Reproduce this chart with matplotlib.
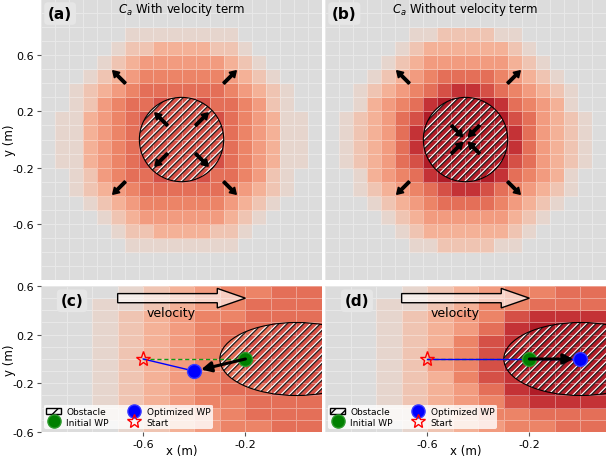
import numpy as np
import matplotlib
matplotlib.use('Agg')
from matplotlib import pyplot as plt
from matplotlib.colors import ListedColormap, BoundaryNorm
from matplotlib.patches import Circle, FancyArrow, Patch
from matplotlib.lines import Line2D
from matplotlib.collections import LineCollection
from matplotlib.transforms import IdentityTransform

# cost level per cell (0 = no cost, 9 = highest), rows listed top -> bottom
grid_a = [
    "00000000000000000000",
    "00000000000000000000",
    "00000011111111000000",
    "00000122333322100000",
    "00001234444443210000",
    "00012345555554321000",
    "00123456666665432100",
    "00124566777766542100",
    "01134567777776543110",
    "01134567777776543110",
    "01134567777776543110",
    "01134567777776543110",
    "00124566777766542100",
    "00123456666665432100",
    "00012345555554321000",
    "00001234444443210000",
    "00000122333322100000",
    "00000011111111000000",
    "00000000000000000000",
    "00000000000000000000",
]
grid_b = [
    "00000000000000000000",
    "00000000000000000000",
    "00000011222211000000",
    "00000123333332100000",
    "00001234444443210000",
    "00012345666654321000",
    "00123456788765432100",
    "00134568999986543100",
    "01234679999997643210",
    "01234689999998643210",
    "01234689999998643210",
    "01234679999997643210",
    "00134568999986543100",
    "00123456788765432100",
    "00012345666654321000",
    "00001234444443210000",
    "00000123333332100000",
    "00000011222211000000",
    "00000000000000000000",
    "00000000000000000000",
]
# bottom panels: x -1.0 .. 0.1, y 0.6 .. -0.6
grid_c = [
    "00012345566",
    "00112345666",
    "00123455666",
    "00123456677",
    "00123456777",
    "00123456777",
    "00123456777",
    "00123456777",
    "00123456677",
    "00123455666",
    "00112345666",
    "00012345566",
]
grid_d = [
    "00012345566",
    "00112355666",
    "00123457888",
    "00123468999",
    "00123578999",
    "00124579999",
    "00124579999",
    "00123578999",
    "00123468999",
    "00123457888",
    "00112355666",
    "00012345566",
]

start = (-0.6, 0.0)
init_wp = (-0.2, 0.0)
opt_wp_c = (-0.4, -0.1)
opt_wp_d = (0.0, 0.0)
obst_r = 0.3

# gradient arrows (x_tail, y_tail, x_head, y_head)
outer_arrows = [(-0.40, 0.40, -0.49, 0.49), (0.30, 0.40, 0.39, 0.49),
                (-0.40, -0.30, -0.49, -0.39), (0.30, -0.30, 0.39, -0.39)]
inner_a = [(-0.10, 0.10, -0.19, 0.19), (0.10, 0.10, 0.19, 0.19),
           (-0.10, -0.10, -0.19, -0.19), (0.10, -0.10, 0.19, -0.19)]
inner_b = [(-0.10, 0.10, -0.02, 0.02), (0.10, 0.10, 0.02, 0.02),
           (-0.10, -0.10, -0.02, -0.02), (0.10, -0.10, 0.02, -0.02)]

bg = '#dcdcdc'
pal = [bg, '#e6d5cd', '#efc4b2', '#f4b197', '#f29b7f', '#ec8467',
       '#e46f58', '#d55046', '#c43236', '#b01c27']
cmap = ListedColormap(pal)
norm = BoundaryNorm(np.arange(-0.5, 10.5, 1), cmap.N)


def to_arr(g):
    return np.array([[int(ch) for ch in row] for row in g])[::-1]


def heat(ax, g, x0, x1, y0, y1):
    arr = to_arr(g)
    xs = np.linspace(x0, x1, arr.shape[1] + 1)
    ys = np.linspace(y0, y1, arr.shape[0] + 1)
    ax.pcolormesh(xs, ys, arr, cmap=cmap, norm=norm,
                  edgecolors=(1, 1, 1, 0.35), linewidth=0.5)
    ax.set_facecolor(bg)


def obstacle(ax):
    # outline + hand drawn diagonal stripes (black with a white edge), clipped to the disc
    circ = Circle((0, 0), obst_r, fill=False, edgecolor='k', lw=0.8, zorder=4)
    ax.add_patch(circ)
    cx, cy = ax.transData.transform((0, 0))
    ex, ey = ax.transData.transform((obst_r, obst_r))
    rx, ry = ex - cx, ey - cy
    step = 8.3
    segs_k, segs_w = [], []
    for c in np.arange(-(rx + ry) - step, rx + ry + step, step):
        xa, xb = cx - rx - ry - 20, cx + rx + ry + 20
        segs_k.append([(xa, cy + (xa - cx) + c), (xb, cy + (xb - cx) + c)])
        segs_w.append([(xa, cy + (xa - cx) + c + 1.6), (xb, cy + (xb - cx) + c + 1.6)])
    for segs, col, lw in [(segs_w, 'white', 1.0), (segs_k, '#222222', 0.9)]:
        lc = LineCollection(segs, colors=col, linewidths=lw, transform=IdentityTransform(), zorder=3)
        ax.add_collection(lc, autolim=False)
        lc.set_clip_path(circ)


def grad_arrows(ax, arrs):
    for x0, y0, x1, y1 in arrs:
        ax.add_patch(FancyArrow(x0, y0, x1 - x0, y1 - y0, width=0.018,
                                head_width=0.055, head_length=0.045,
                                length_includes_head=True, color='k', zorder=5))


def tag(ax, s, x, y):
    ax.text(x, y, s, transform=ax.transAxes, fontsize=11, fontweight='bold',
            va='top', ha='left', zorder=10,
            bbox=dict(boxstyle='round,pad=0.25', fc='#e6e6e6', ec='none'))


def style(ax):
    for sp in ax.spines.values():
        sp.set_visible(False)
    ax.tick_params(labelsize=8, length=3, pad=2, color='#555555')


fig = plt.figure(figsize=(6.06, 4.6), dpi=100)
ax_a = fig.add_axes([0.0677, 0.389, 0.4637, 0.611])
ax_b = fig.add_axes([0.5363, 0.389, 0.4637, 0.611])
ax_c = fig.add_axes([0.0677, 0.0587, 0.4637, 0.3174])
ax_d = fig.add_axes([0.5363, 0.0587, 0.4637, 0.3174])

# top panels
for ax, g, inner, ttl, lab in [(ax_a, grid_a, inner_a, r'$C_a$ With velocity term', '(a)'),
                               (ax_b, grid_b, inner_b, r'$C_a$ Without velocity term', '(b)')]:
    ax.set_xlim(-1, 1)
    ax.set_ylim(-1, 1)
    ax.set_aspect('equal')
    heat(ax, g, -1, 1, -1, 1)
    obstacle(ax)
    grad_arrows(ax, outer_arrows)
    grad_arrows(ax, inner)
    ax.set_xticks([])
    ax.set_yticks([-0.6, -0.2, 0.2, 0.6])
    ax.set_yticklabels(['-0.6', '-0.2', '0.2', '0.6'])
    ax.text(0.5, 0.995, ttl, transform=ax.transAxes, ha='center', va='top', fontsize=8.5)
    tag(ax, lab, 0.025, 0.975)
    style(ax)
ax_b.set_yticks([])

# bottom panels
for ax, g, opt, lab in [(ax_c, grid_c, opt_wp_c, '(c)'), (ax_d, grid_d, opt_wp_d, '(d)')]:
    ax.set_xlim(-1.0, 0.1)
    ax.set_ylim(-0.6, 0.6)
    ax.set_aspect('auto')
    heat(ax, g, -1.0, 0.1, -0.6, 0.6)
    obstacle(ax)
    ax.plot([start[0], init_wp[0]], [start[1], init_wp[1]], '--', color='#139a13', lw=1,
            dashes=(3, 2), zorder=5)
    ax.plot([start[0], opt[0]], [start[1], opt[1]], '-', color='blue', lw=1, zorder=5)
    ax.plot(*init_wp, 'o', color='green', mec='#2e9a2e', ms=10, zorder=6)
    ax.plot(*opt, 'o', color='blue', mec='#3a3aff', ms=10, zorder=6)
    ax.plot(*start, '*', mfc='none', mec='red', ms=11, mew=1, zorder=6)
    ax.annotate('', xy=opt, xytext=init_wp, zorder=7,
                arrowprops=dict(arrowstyle='-|>,head_width=0.3,head_length=0.6',
                                lw=2.2, color='k', shrinkA=0, shrinkB=5))
    ax.add_patch(FancyArrow(-0.7, 0.5, 0.5, 0, width=0.075, head_width=0.16,
                            head_length=0.11, length_includes_head=True,
                            fc=(1, 1, 1, 0.6), ec='k', lw=1, zorder=8))
    ax.text(-0.49, 0.385, 'velocity', ha='center', va='center', fontsize=9, zorder=8)
    ax.set_xticks([-0.6, -0.2])
    ax.set_xticklabels(['-0.6', '-0.2'])
    ax.set_yticks([-0.6, -0.2, 0.2, 0.6])
    ax.set_yticklabels(['-0.6', '-0.2', '0.2', '0.6'])
    tag(ax, lab, 0.07, 0.95)
    style(ax)
    handles = [Patch(facecolor='none', edgecolor='k', hatch='///', label='Obstacle'),
               Line2D([], [], ls='', marker='o', color='green', mec='#2e9a2e', ms=9.5, label='Initial WP'),
               Line2D([], [], ls='', marker='o', color='blue', mec='#3a3aff', ms=9.5, label='Optimized WP'),
               Line2D([], [], ls='', marker='*', mfc='none', mec='red', ms=10.5, label='Start')]
    leg = ax.legend(handles=handles, loc='lower left', ncol=2, fontsize=6.5,
                    framealpha=0.8, facecolor='white', edgecolor='none',
                    handlelength=1.6, handletextpad=0.6, columnspacing=2.0,
                    labelspacing=0.15, borderpad=0.3, borderaxespad=0.3)
    leg.set_zorder(20)
ax_d.set_yticks([])

# axis labels placed in figure coordinates so they stay inside the canvas
fig.text(10 / 606, 1 - 140 / 460, 'y (m)', rotation=90, ha='center', va='center', fontsize=8.5)
fig.text(10 / 606, 1 - 360 / 460, 'y (m)', rotation=90, ha='center', va='center', fontsize=8.5)
fig.text(182 / 606, 1 - 452 / 460, 'x (m)', ha='center', va='center', fontsize=8.5)
fig.text(466 / 606, 1 - 452 / 460, 'x (m)', ha='center', va='center', fontsize=8.5)

fig.savefig('out.png', dpi=100)
